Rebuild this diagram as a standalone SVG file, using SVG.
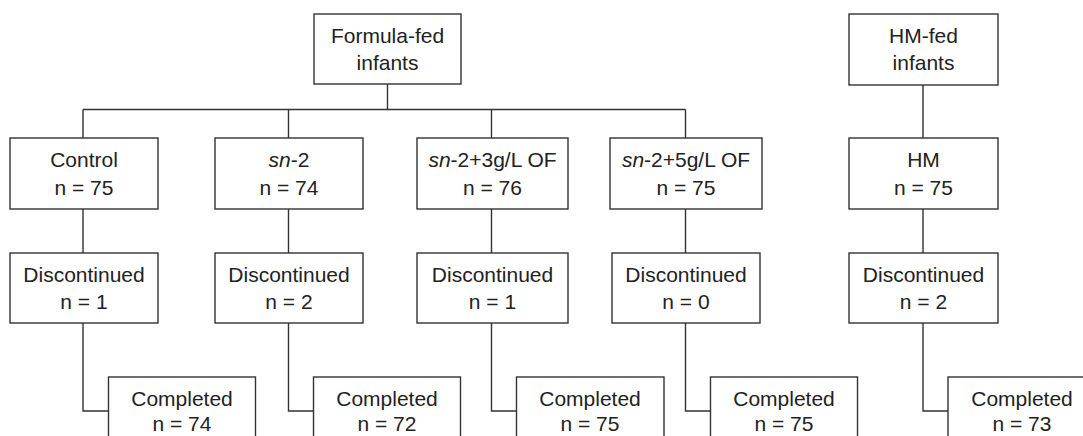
<svg xmlns="http://www.w3.org/2000/svg" width="1083" height="436" viewBox="0 0 1083 436">
<style>
.box{fill:#fff;stroke:#333;stroke-width:1.4}
.ln{fill:none;stroke:#333;stroke-width:1.4}
text{font-family:"Liberation Sans",Arial,sans-serif;font-size:21px;fill:#222;text-anchor:middle}
.it{font-style:italic}
</style>
<rect width="1083" height="436" fill="#fff"/>
<g id="connectors">
<path class="ln" d="M387.5 84V109.5M83 109.5H685.5M83 109.5V138M288.5 109.5V138M491.5 109.5V138M685.5 109.5V138M923 85V138"/>
<path class="ln" d="M83 209V253M288.5 209V253M491.5 209V253M685.5 209V253M923 209V253"/>
<path class="ln" d="M83 323V411H108.5M288.5 323V411H313.5M491.5 323V411H516.5M685.5 323V411H710.5M923 323V411H948"/>
</g>
<g id="formula-fed"><rect class="box" x="314" y="14" width="147" height="70"/><text x="387.5" y="43">Formula-fed</text><text x="387.5" y="70">infants</text></g>
<g id="hm-fed"><rect class="box" x="849" y="14" width="149" height="71"/><text x="923.5" y="43">HM-fed</text><text x="923.5" y="70">infants</text></g>
<g id="control"><rect class="box" x="10" y="138" width="148" height="71"/><text x="84" y="167">Control</text><text x="84" y="194.5">n = 75</text></g>
<g id="sn2"><rect class="box" x="215" y="138" width="148" height="71"/><text x="289" y="167"><tspan class="it">sn</tspan>-2</text><text x="289" y="194.5">n = 74</text></g>
<g id="sn2-3g"><rect class="box" x="417" y="138" width="151" height="71"/><text x="492.5" y="167"><tspan class="it">sn</tspan>-2+3g/L OF</text><text x="492.5" y="194.5">n = 76</text></g>
<g id="sn2-5g"><rect class="box" x="610" y="138" width="152" height="71"/><text x="686" y="167"><tspan class="it">sn</tspan>-2+5g/L OF</text><text x="686" y="194.5">n = 75</text></g>
<g id="hm"><rect class="box" x="849" y="138" width="149" height="71"/><text x="923.5" y="167">HM</text><text x="923.5" y="194.5">n = 75</text></g>
<g id="disc-control"><rect class="box" x="10" y="253" width="148" height="70"/><text x="84" y="282">Discontinued</text><text x="84" y="309">n = 1</text></g>
<g id="disc-sn2"><rect class="box" x="215" y="253" width="148" height="70"/><text x="289" y="282">Discontinued</text><text x="289" y="309">n = 2</text></g>
<g id="disc-sn2-3g"><rect class="box" x="417" y="253" width="151" height="70"/><text x="492.5" y="282">Discontinued</text><text x="492.5" y="309">n = 1</text></g>
<g id="disc-sn2-5g"><rect class="box" x="612" y="253" width="148" height="70"/><text x="686" y="282">Discontinued</text><text x="686" y="309">n = 0</text></g>
<g id="disc-hm"><rect class="box" x="849" y="253" width="149" height="70"/><text x="923.5" y="282">Discontinued</text><text x="923.5" y="309">n = 2</text></g>
<g id="comp-control"><rect class="box" x="108.5" y="377" width="147" height="80"/><text x="182" y="406">Completed</text><text x="182" y="431">n = 74</text></g>
<g id="comp-sn2"><rect class="box" x="313.5" y="377" width="147" height="80"/><text x="387" y="406">Completed</text><text x="387" y="431">n = 72</text></g>
<g id="comp-sn2-3g"><rect class="box" x="516.5" y="377" width="147.5" height="80"/><text x="590" y="406">Completed</text><text x="590" y="431">n = 75</text></g>
<g id="comp-sn2-5g"><rect class="box" x="710.5" y="377" width="147" height="80"/><text x="784" y="406">Completed</text><text x="784" y="431">n = 75</text></g>
<g id="comp-hm"><rect class="box" x="948" y="377" width="148" height="80"/><text x="1022" y="406">Completed</text><text x="1022" y="431">n = 73</text></g>
</svg>
